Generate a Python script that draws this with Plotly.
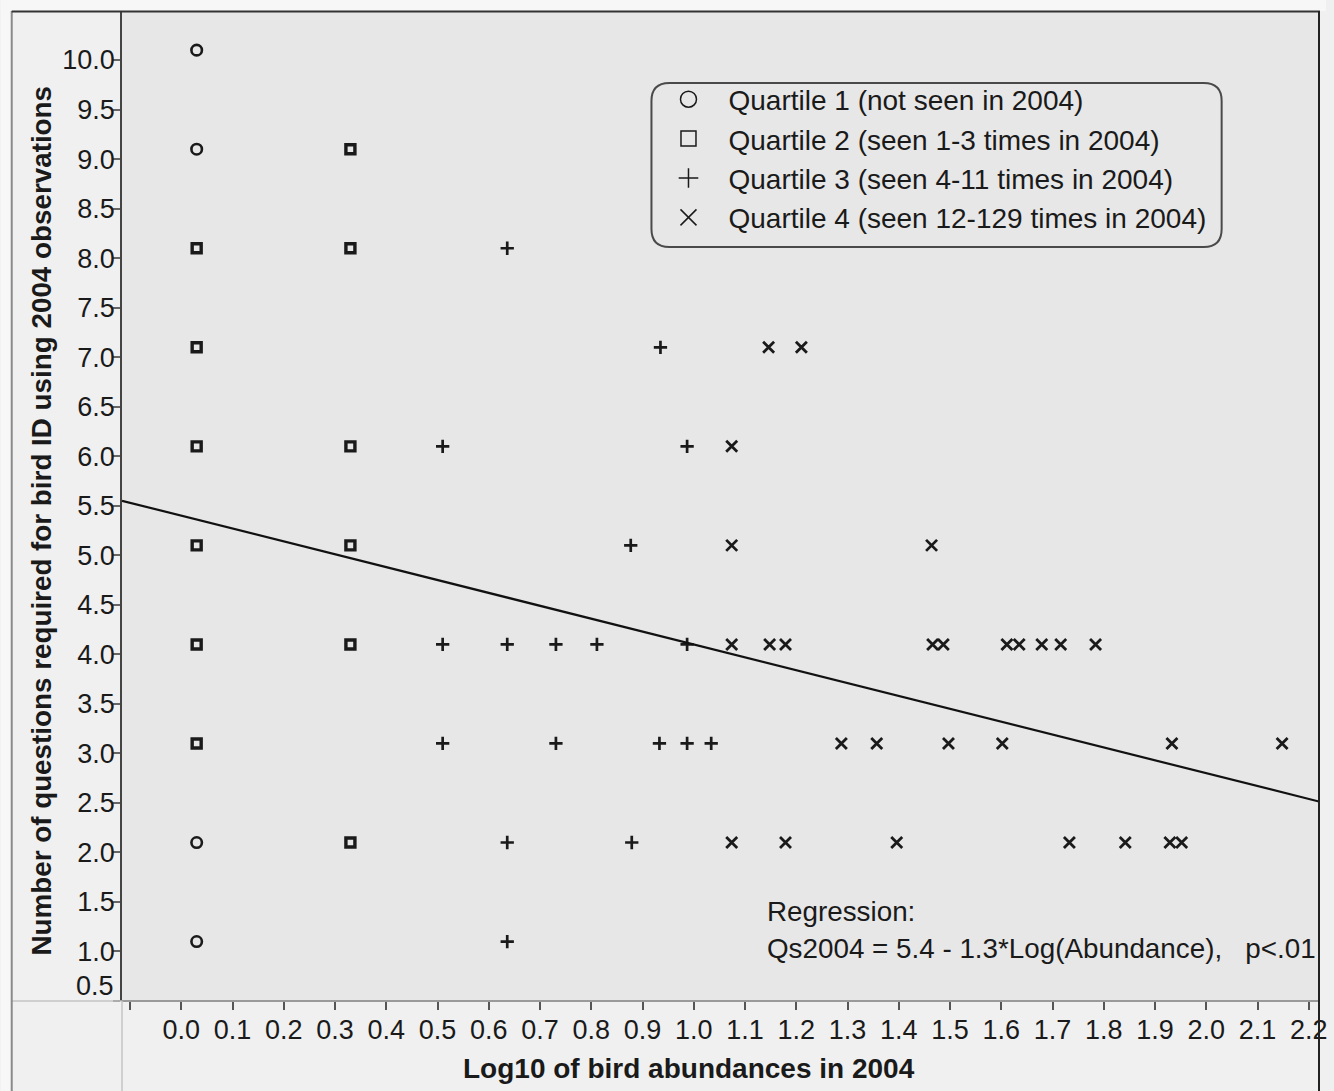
import plotly.graph_objects as go

# ---------------- data ----------------
q1_x = [0.03, 0.03, 0.03, 0.03]
q1_y = [10.1, 9.1, 2.1, 1.1]

q2_x = [0.03, 0.03, 0.03, 0.03, 0.03, 0.03, 0.33, 0.33, 0.33, 0.33, 0.33, 0.33]
q2_y = [8.1, 7.1, 6.1, 5.1, 4.1, 3.1, 9.1, 8.1, 6.1, 5.1, 4.1, 2.1]

q3_x = [0.636, 0.935, 0.510, 0.987, 0.877,
        0.510, 0.636, 0.731, 0.811, 0.987,
        0.510, 0.731, 0.933, 0.987, 1.034,
        0.636, 0.879, 0.636]
q3_y = [8.1, 7.1, 6.1, 6.1, 5.1,
        4.1, 4.1, 4.1, 4.1, 4.1,
        3.1, 3.1, 3.1, 3.1, 3.1,
        2.1, 2.1, 1.1]

q4_x = [1.146, 1.210, 1.074, 1.074, 1.464,
        1.074, 1.148, 1.179, 1.466, 1.487, 1.611, 1.635, 1.679, 1.716, 1.784,
        1.288, 1.357, 1.497, 1.602, 1.933, 2.148,
        1.074, 1.179, 1.396, 1.733, 1.842, 1.929, 1.952]
q4_y = [7.1, 7.1, 6.1, 5.1, 5.1,
        4.1, 4.1, 4.1, 4.1, 4.1, 4.1, 4.1, 4.1, 4.1, 4.1,
        3.1, 3.1, 3.1, 3.1, 3.1, 3.1,
        2.1, 2.1, 2.1, 2.1, 2.1, 2.1, 2.1]

series_names = ["Quartile 1 (not seen in 2004)",
                "Quartile 2 (seen 1-3 times in 2004)",
                "Quartile 3 (seen 4-11 times in 2004)",
                "Quartile 4 (seen 12-129 times in 2004)"]

reg_intercept = 5.4
reg_slope = -1.3

x_range = [-0.1157, 2.220]
y_range = [0.5, 10.485]
x_tick_vals = [round(-0.1 + 0.1 * i, 1) for i in range(24)]
x_tick_text = [""] + ["%.1f" % v for v in x_tick_vals[1:]]
y_tick_vals = [round(0.5 + 0.5 * i, 1) for i in range(20)]
y_tick_text = [""] + ["%.1f" % v for v in y_tick_vals[1:]]   # 0.5 label placed separately (raised)
y_bottom_label = "%.1f" % y_tick_vals[0]

# ---------------- layout helpers ----------------
W, H = 1334, 1091
L, R, T, B = 122, 1327, 12, 1001
FONT = "Liberation Sans, Arial, sans-serif"
INK = "#1a1a1a"


def fx(p):
    return (p - L) / (R - L)


def fy(p):
    return (B - p) / (B - T)


fig = go.Figure()

symbols = ["circle-open", "square-open", "cross-thin-open", "x-thin-open"]
sizes = [10.5, 9, 9.5, 11]
widths = [2.6, 3.4, 2.7, 2.8]
xs = [q1_x, q2_x, q3_x, q4_x]
ys = [q1_y, q2_y, q3_y, q4_y]

for i in range(4):
    fig.add_trace(go.Scatter(
        x=xs[i], y=ys[i], mode="markers", showlegend=False,
        marker=dict(symbol=symbols[i], size=sizes[i], color=INK,
                    line=dict(color=INK, width=widths[i])),
    ))

# regression line
fig.add_trace(go.Scatter(
    x=x_range,
    y=[reg_intercept + reg_slope * v for v in x_range],
    mode="lines", showlegend=False,
    line=dict(color="#111111", width=2.2),
))

# legend entries
leg_sizes = [16, 15, 14, 16]
for i in range(4):
    fig.add_trace(go.Scatter(
        x=[None], y=[None], mode="markers", name=series_names[i],
        legendgroup="g%d" % i,
        marker=dict(symbol=symbols[i], size=leg_sizes[i], color=INK,
                    line=dict(color=INK, width=1.5)),
    ))

shapes = []
shapes.append(dict(type="rect", xref="paper", yref="paper", x0=fx(0), x1=fx(W), y0=fy(0), y1=fy(11),
                   fillcolor="#f7f7f7", line=dict(width=0), layer="below"))
shapes.append(dict(type="rect", xref="paper", yref="paper", x0=fx(0), x1=fx(10), y0=fy(0), y1=fy(H),
                   fillcolor="#f7f7f7", line=dict(width=0), layer="below"))


def hline(x0, x1, y, color, w):
    shapes.append(dict(type="line", xref="paper", yref="paper", x0=fx(x0), x1=fx(x1),
                       y0=fy(y), y1=fy(y), line=dict(color=color, width=w)))


def vline(x, y0, y1, color, w):
    shapes.append(dict(type="line", xref="paper", yref="paper", x0=fx(x), x1=fx(x),
                       y0=fy(y0), y1=fy(y1), line=dict(color=color, width=w)))


hline(11, R, 1001, "#c4c4c4", 1.5)
hline(L, R, 1001, "#9a9a9a", 2)
vline(L, B, H, "#c4c4c4", 1.5)
vline(11, 11, H, "#8a8a8a", 2)
hline(11, R + 1, 11.5, "#333333", 2)
vline(R, 11, H, "#222222", 2)

# rounded legend box
bx0, bx1, by0, by1, rr = 655, 1229, 83, 247, 18
path = (f"M {fx(bx0 + rr)},{fy(by0)} L {fx(bx1 - rr)},{fy(by0)} "
        f"Q {fx(bx1)},{fy(by0)} {fx(bx1)},{fy(by0 + rr)} L {fx(bx1)},{fy(by1 - rr)} "
        f"Q {fx(bx1)},{fy(by1)} {fx(bx1 - rr)},{fy(by1)} L {fx(bx0 + rr)},{fy(by1)} "
        f"Q {fx(bx0)},{fy(by1)} {fx(bx0)},{fy(by1 - rr)} L {fx(bx0)},{fy(by0 + rr)} "
        f"Q {fx(bx0)},{fy(by0)} {fx(bx0 + rr)},{fy(by0)} Z")
shapes.append(dict(type="path", xref="paper", yref="paper", path=path,
                   line=dict(color="#4a4a4a", width=2), fillcolor="rgba(0,0,0,0)"))

annotations = [
    dict(text="<b>Number of questions required for bird ID using 2004 observations</b>",
         xref="paper", yref="paper", x=fx(40), y=fy(521), textangle=-90,
         xanchor="center", yanchor="middle", showarrow=False,
         font=dict(family=FONT, size=27.8, color=INK)),
    dict(text="<b>Log10 of bird abundances in 2004</b>",
         xref="paper", yref="paper", x=fx(693), y=fy(1068),
         xanchor="center", yanchor="middle", showarrow=False,
         font=dict(family=FONT, size=28, color=INK)),
    dict(text="Regression:", xref="paper", yref="paper", x=fx(769), y=fy(911),
         xanchor="left", yanchor="middle", showarrow=False,
         font=dict(family=FONT, size=27.8, color=INK)),
    dict(text="Qs2004 = 5.4 - 1.3*Log(Abundance),&nbsp;&nbsp;&nbsp;p<.01", xref="paper", yref="paper",
         x=fx(769), y=fy(948),
         xanchor="left", yanchor="middle", showarrow=False,
         font=dict(family=FONT, size=27.8, color=INK)),
    dict(text=y_bottom_label, xref="paper", yref="paper", x=fx(116), y=fy(986),
         xanchor="right", yanchor="middle", showarrow=False,
         font=dict(family=FONT, size=27, color=INK)),
]

fig.update_layout(
    width=W, height=H,
    margin=dict(l=L, r=W - R, t=T, b=H - B),
    paper_bgcolor="#f0f0f0",
    plot_bgcolor="#e7e7e7",
    font=dict(family=FONT, size=27, color=INK),
    shapes=shapes,
    annotations=annotations,
    showlegend=True,
    legend=dict(x=fx(652), y=fy(74.5), xanchor="left", yanchor="top",
                bgcolor="rgba(0,0,0,0)", borderwidth=0, itemwidth=70,
                tracegroupgap=0, traceorder="normal",
                font=dict(family=FONT, size=28, color=INK)),
    xaxis=dict(range=x_range, tickmode="array", tickvals=x_tick_vals, ticktext=x_tick_text,
               ticks="outside", ticklen=8, tickwidth=1.5, tickcolor="#555555",
               showgrid=False, zeroline=False, showline=False,
               ticklabeloverflow="allow", ticklabelstandoff=-3,
               tickfont=dict(family=FONT, size=27, color=INK)),
    yaxis=dict(range=y_range, tickmode="array", tickvals=y_tick_vals, ticktext=y_tick_text,
               ticks="outside", ticklen=7, tickwidth=1.5, tickcolor="#666666",
               showgrid=False, zeroline=False, showline=True, linecolor="#444444", linewidth=1.5,
               ticklabelstandoff=-7, ticklabeloverflow="allow",
               tickfont=dict(family=FONT, size=27, color=INK)),
)

fig.write_html("out.html", config={"displayModeBar": False},
               post_script="document.body.style.margin='0';document.body.style.overflow='hidden';")
